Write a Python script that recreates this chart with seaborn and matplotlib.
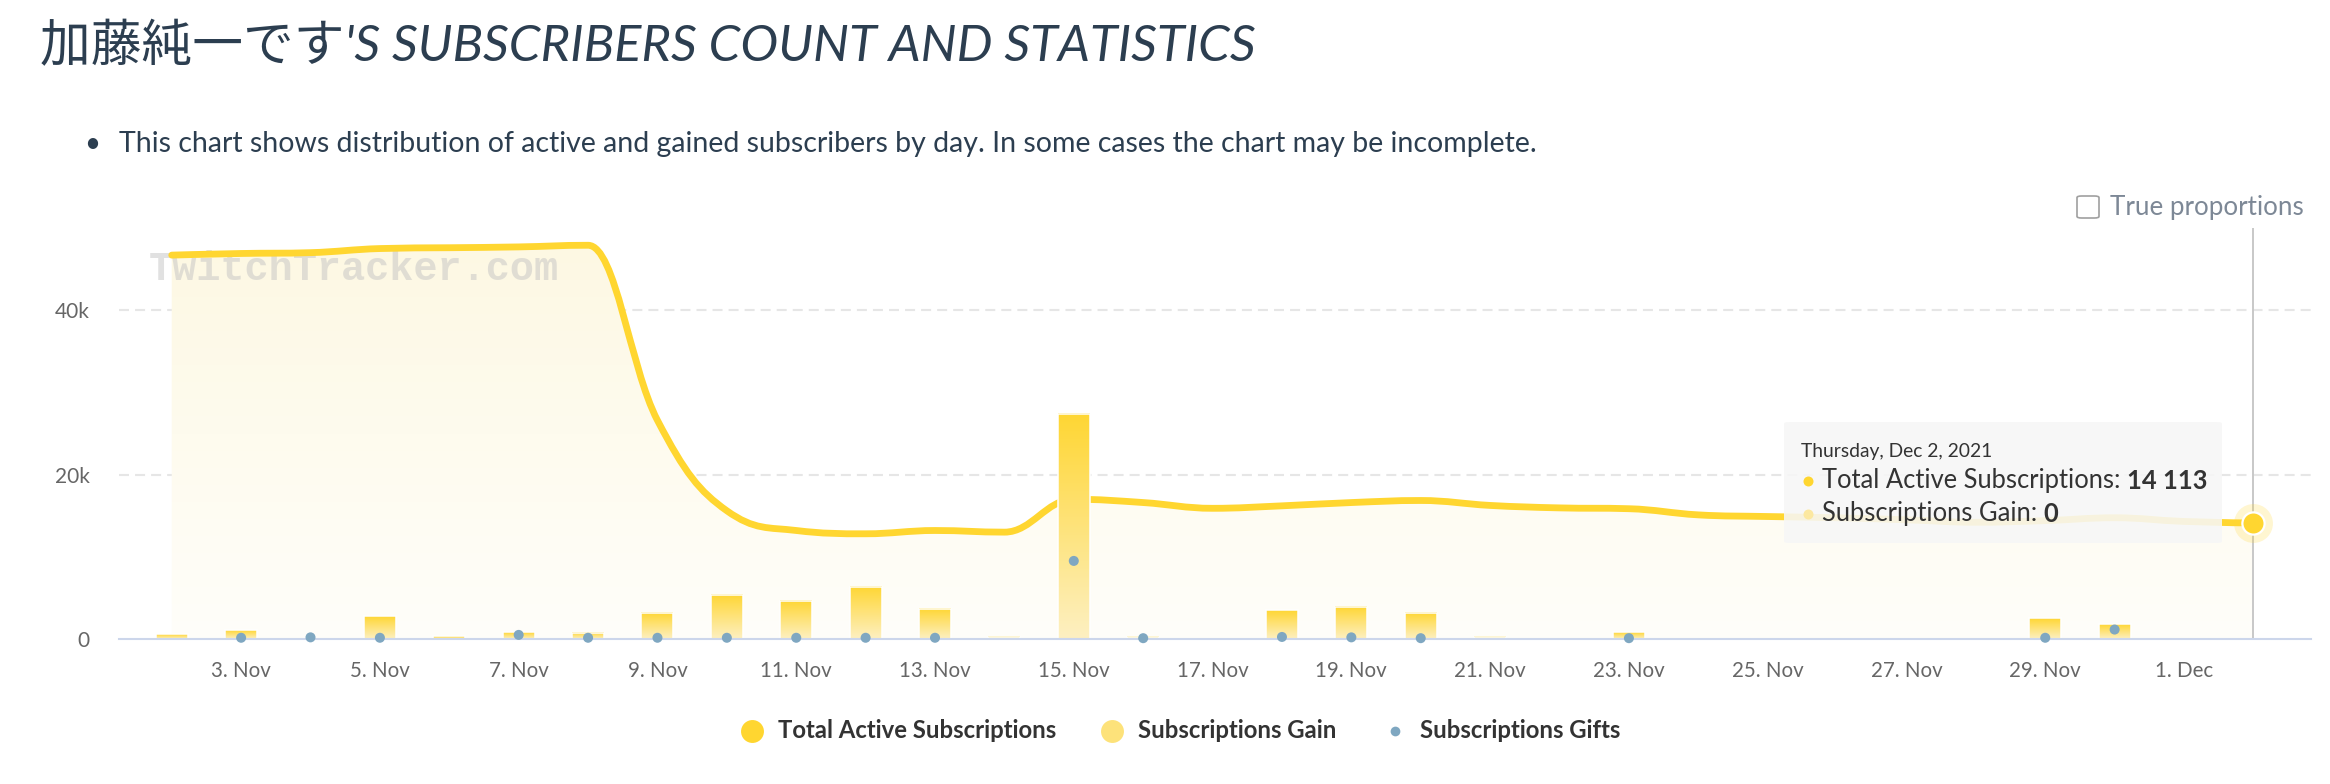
import numpy as np
import pandas as pd
import matplotlib
matplotlib.use("Agg")
import matplotlib.pyplot as plt
import seaborn as sns
from matplotlib.path import Path
from matplotlib.patches import PathPatch, FancyBboxPatch
from matplotlib.colors import LinearSegmentedColormap
from matplotlib.lines import Line2D
from matplotlib.text import Annotation

# --- data ---
days = [
    "2021-11-02", "2021-11-03", "2021-11-04", "2021-11-05", "2021-11-06",
    "2021-11-07", "2021-11-08", "2021-11-09", "2021-11-10", "2021-11-11",
    "2021-11-12", "2021-11-13", "2021-11-14", "2021-11-15", "2021-11-16",
    "2021-11-17", "2021-11-18", "2021-11-19", "2021-11-20", "2021-11-21",
    "2021-11-22", "2021-11-23", "2021-11-24", "2021-11-25", "2021-11-26",
    "2021-11-27", "2021-11-28", "2021-11-29", "2021-11-30", "2021-12-01",
    "2021-12-02",
]
total_active = [
    46700, 46900, 47000, 47500, 47600, 47700, 47900, 26600, 15600, 13200,
    12800, 13200, 13000, 17000, 16600, 15900, 16200, 16600, 16850, 16250,
    15950, 15850, 15100, 14900, 14750, 14500, 14200, 14400, 14750, 14300,
    14113,
]
subs_gain = [
    570, 1060, 0, 2760, 330, 810, 750, 3200, 5400, 4680,
    6370, 3700, 280, 27400, 300, 0, 3500, 3950, 3220, 300,
    0, 800, 0, 0, 0, 0, 0, 2500, 1800, 0,
    0,
]
subs_gifts = [
    np.nan, 150, 200, 150, np.nan, 500, 150, 150, 150, 150,
    150, 150, np.nan, 9500, 100, np.nan, 250, 200, 100, np.nan,
    np.nan, 100, np.nan, np.nan, np.nan, np.nan, np.nan, 150, 1150, np.nan,
    np.nan,
]
tick_days = [
    "2021-11-03", "2021-11-05", "2021-11-07", "2021-11-09", "2021-11-11",
    "2021-11-13", "2021-11-15", "2021-11-17", "2021-11-19", "2021-11-21",
    "2021-11-23", "2021-11-25", "2021-11-27", "2021-11-29", "2021-12-01",
]
tick_labels = [
    "3. Nov", "5. Nov", "7. Nov", "9. Nov", "11. Nov", "13. Nov", "15. Nov",
    "17. Nov", "19. Nov", "21. Nov", "23. Nov", "25. Nov", "27. Nov",
    "29. Nov", "1. Dec",
]
y_ticks = [0, 20000, 40000]
y_labels = ["0", "20k", "40k"]

LINE = "#FFD630"
GIFT = "#7FA7C1"
W, H = 2330, 784


def fx(px):
    return px / W


def fy(py):
    return 1 - py / H


def spline_path(xs, ys):
    # highcharts-style spline: bezier control points from neighbours
    n = len(xs)
    sm, den = 1.5, 2.5
    lc, rc = [], []
    for i in range(n):
        x, y = xs[i], ys[i]
        if 0 < i < n - 1:
            lx = (sm * x + xs[i - 1]) / den
            ly = (sm * y + ys[i - 1]) / den
            rx = (sm * x + xs[i + 1]) / den
            ry = (sm * y + ys[i + 1]) / den
            corr = (ry - ly) * (rx - x) / (rx - lx) + y - ry
            ly += corr
            ry += corr
            if ly > ys[i - 1] and ly > y:
                ly = max(ys[i - 1], y); ry = 2 * y - ly
            elif ly < ys[i - 1] and ly < y:
                ly = min(ys[i - 1], y); ry = 2 * y - ly
            if ry > ys[i + 1] and ry > y:
                ry = max(ys[i + 1], y); ly = 2 * y - ry
            elif ry < ys[i + 1] and ry < y:
                ry = min(ys[i + 1], y); ly = 2 * y - ry
            lc.append((lx, ly)); rc.append((rx, ry))
        else:
            lc.append((x, y)); rc.append((x, y))
    verts = [(xs[0], ys[0])]
    codes = [Path.MOVETO]
    for i in range(1, n):
        verts += [rc[i - 1], lc[i], (xs[i], ys[i])]
        codes += [Path.CURVE4] * 3
    return verts, codes


df = pd.DataFrame({
    "day": pd.to_datetime(days),
    "total": total_active,
    "gain": subs_gain,
    "gifts": subs_gifts,
})
df["pos"] = np.arange(len(df))
tick_pos = [days.index(d) for d in tick_days]

sns.set_theme(style="white")
plt.rcParams["font.family"] = ["Lato", "Noto Sans CJK JP", "DejaVu Sans"]

fig = plt.figure(figsize=(W / 100, H / 100), dpi=100)
ax = fig.add_axes([fx(119), fy(639), (2311 - 119) / W, (639 - 228) / H])

xlim = (-0.76, 30.83)
ylim = (0, 50000)

# area under the line
verts, codes = spline_path(df["pos"].tolist(), df["total"].tolist())
area_path = Path(verts + [(df["pos"].iloc[-1], 0), (df["pos"].iloc[0], 0), (0, 0)],
                 codes + [Path.LINETO, Path.LINETO, Path.CLOSEPOLY])
area_patch = PathPatch(area_path, facecolor="none", edgecolor="none")
ax.add_patch(area_patch)
fill_cmap = LinearSegmentedColormap.from_list("fill", ["#FFFEFA", "#FDF8E2"])
grad = np.linspace(0, 1, 256).reshape(-1, 1)
im = ax.imshow(grad, extent=(xlim[0], xlim[1], ylim[0], ylim[1]), origin="lower",
               aspect="auto", cmap=fill_cmap, zorder=1, interpolation="bilinear")
im.set_clip_path(area_patch)

# line
line_patch = PathPatch(Path(verts, codes), facecolor="none", edgecolor=LINE,
                       lw=4.9, capstyle="round", joinstyle="round", zorder=3)
ax.add_patch(line_patch)

# bars with vertical gradient
sns.barplot(data=df, x="pos", y="gain", native_scale=True, width=0.46,
            color=LINE, errorbar=None, ax=ax, zorder=4)
bar_cmap = LinearSegmentedColormap.from_list("bar", ["#FDF0C2", "#FFD633"])
for p in list(ax.patches):
    if p in (area_patch, line_patch):
        continue
    h = p.get_height()
    if h <= 0:
        p.set_visible(False)
        continue
    x0, w = p.get_x(), p.get_width()
    ax.imshow(grad, extent=(x0, x0 + w, 0, h), origin="lower", aspect="auto",
              cmap=bar_cmap, zorder=4, interpolation="bilinear")
    p.set_facecolor("none")
    p.set_edgecolor("white")
    p.set_linewidth(1.1)
    p.set_zorder(4.5)

# gifts
sns.scatterplot(data=df.dropna(subset=["gifts"]), x="pos", y="gifts", color=GIFT,
                s=52, edgecolor="none", ax=ax, zorder=6, legend=False)
for c in ax.collections:
    c.set_clip_on(False)

# crosshair + hovered point
last_x, last_y = df["pos"].iloc[-1], df["total"].iloc[-1]
ax.axvline(last_x, color="#C8C8C8", lw=1.4, zorder=2.5)
ax.plot([last_x], [last_y], "o", ms=28, color=LINE, alpha=0.22, mec="none",
        zorder=6, clip_on=False)
ax.plot([last_x], [last_y], "o", ms=16, mfc=LINE, mec="white", mew=1.6,
        zorder=7, clip_on=False)

# axes styling
ax.set_xlim(*xlim)
ax.set_ylim(*ylim)
ax.set_xticks(tick_pos)
ax.set_xticklabels(tick_labels)
ax.set_yticks(y_ticks)
ax.set_yticklabels(y_labels)
ax.set_xlabel("")
ax.set_ylabel("")
ax.tick_params(axis="x", length=13, width=1.4, color="#CCD6EB", pad=3,
               labelsize=14.8, labelcolor="#666666")
ax.tick_params(axis="y", length=0, pad=21, labelsize=15, labelcolor="#666666")
ax.grid(axis="y", color="#E6E6E6", lw=1.5, ls=(0, (4.8, 2.9)), zorder=0)
ax.grid(axis="x", visible=False)
ax.yaxis.get_gridlines()[0].set_visible(False)
for s in ["left", "right", "top"]:
    ax.spines[s].set_visible(False)
ax.spines["bottom"].set_color("#CCD6EB")
ax.spines["bottom"].set_linewidth(1.5)
ax.spines["bottom"].set_zorder(5)
ax.set_facecolor("white")

# watermark
ax.text(fx(149), fy(269), "TwitchTracker.com", transform=fig.transFigure,
        family="Liberation Mono", fontweight="bold", fontsize=29,
        color="#C4C4C4", alpha=0.5, va="center", ha="left", zorder=2, clip_on=False)

# title and note
fig.text(fx(40), fy(47), "加藤純一です'S SUBSCRIBERS COUNT AND STATISTICS",
         fontsize=36.5, style="italic", color="#2C3E50", va="center", ha="left")
fig.text(fx(92), fy(144), "•", fontsize=20, color="#2C3E50", va="center", ha="center")
fig.text(fx(119), fy(144),
         "This chart shows distribution of active and gained subscribers by day. "
         "In some cases the chart may be incomplete.",
         fontsize=20.5, color="#2C3E50", va="center", ha="left")

# "True proportions" checkbox
fig.add_artist(FancyBboxPatch((fx(2077), fy(218)), fx(22), 22 / H,
                              boxstyle="round,pad=0,rounding_size=0.002",
                              facecolor="white", edgecolor="#A0A0A0", lw=1.2,
                              transform=fig.transFigure))
fig.text(fx(2110), fy(208), "True proportions", fontsize=18.7, color="#7D8896",
         va="center", ha="left")

# tooltip
fig.add_artist(FancyBboxPatch((fx(1784), fy(543)), (2222 - 1784) / W, (543 - 422) / H,
                              boxstyle="round,pad=0,rounding_size=0.002",
                              facecolor="#F7F7F7", edgecolor="none", alpha=0.88,
                              transform=fig.transFigure, zorder=8))
fig.text(fx(1801), fy(451), "Thursday, Dec 2, 2021", fontsize=13.9, color="#333333",
         va="center", ha="left", zorder=9)
tip_rows = [
    (481, "Total Active Subscriptions: ", f"{last_y:,}".replace(",", " "), LINE),
    (514, "Subscriptions Gain: ", f"{subs_gain[-1]}", "#FCE8A0"),
]
for ty, label, val, col in tip_rows:
    fig.add_artist(Line2D([fx(1808)], [fy(ty)], marker="o", ms=7.2, color=col,
                          mec="none", transform=fig.transFigure, zorder=9))
    t = fig.text(fx(1822), fy(ty), label, fontsize=18.4, color="#333333",
                 va="center", ha="left", zorder=9)
    fig.add_artist(Annotation(val, xy=(1, 0), xycoords=t, va="bottom", ha="left",
                              fontsize=18.4, fontweight="bold", color="#333333",
                              annotation_clip=False, zorder=9))

# legend
legend_items = [
    (752, 778, "Total Active Subscriptions", LINE, 16.5),
    (1112, 1138, "Subscriptions Gain", "#FDE27A", 16.5),
    (1395, 1420, "Subscriptions Gifts", GIFT, 7),
]
for mx, tx, label, col, ms in legend_items:
    fig.add_artist(Line2D([fx(mx)], [fy(731)], marker="o", ms=ms, color=col,
                          mec="none", transform=fig.transFigure))
    fig.text(fx(tx), fy(731), label, fontsize=17.2, fontweight="bold",
             color="#333333", va="center", ha="left")

fig.savefig("out.png", dpi=100)
plt.close(fig)
